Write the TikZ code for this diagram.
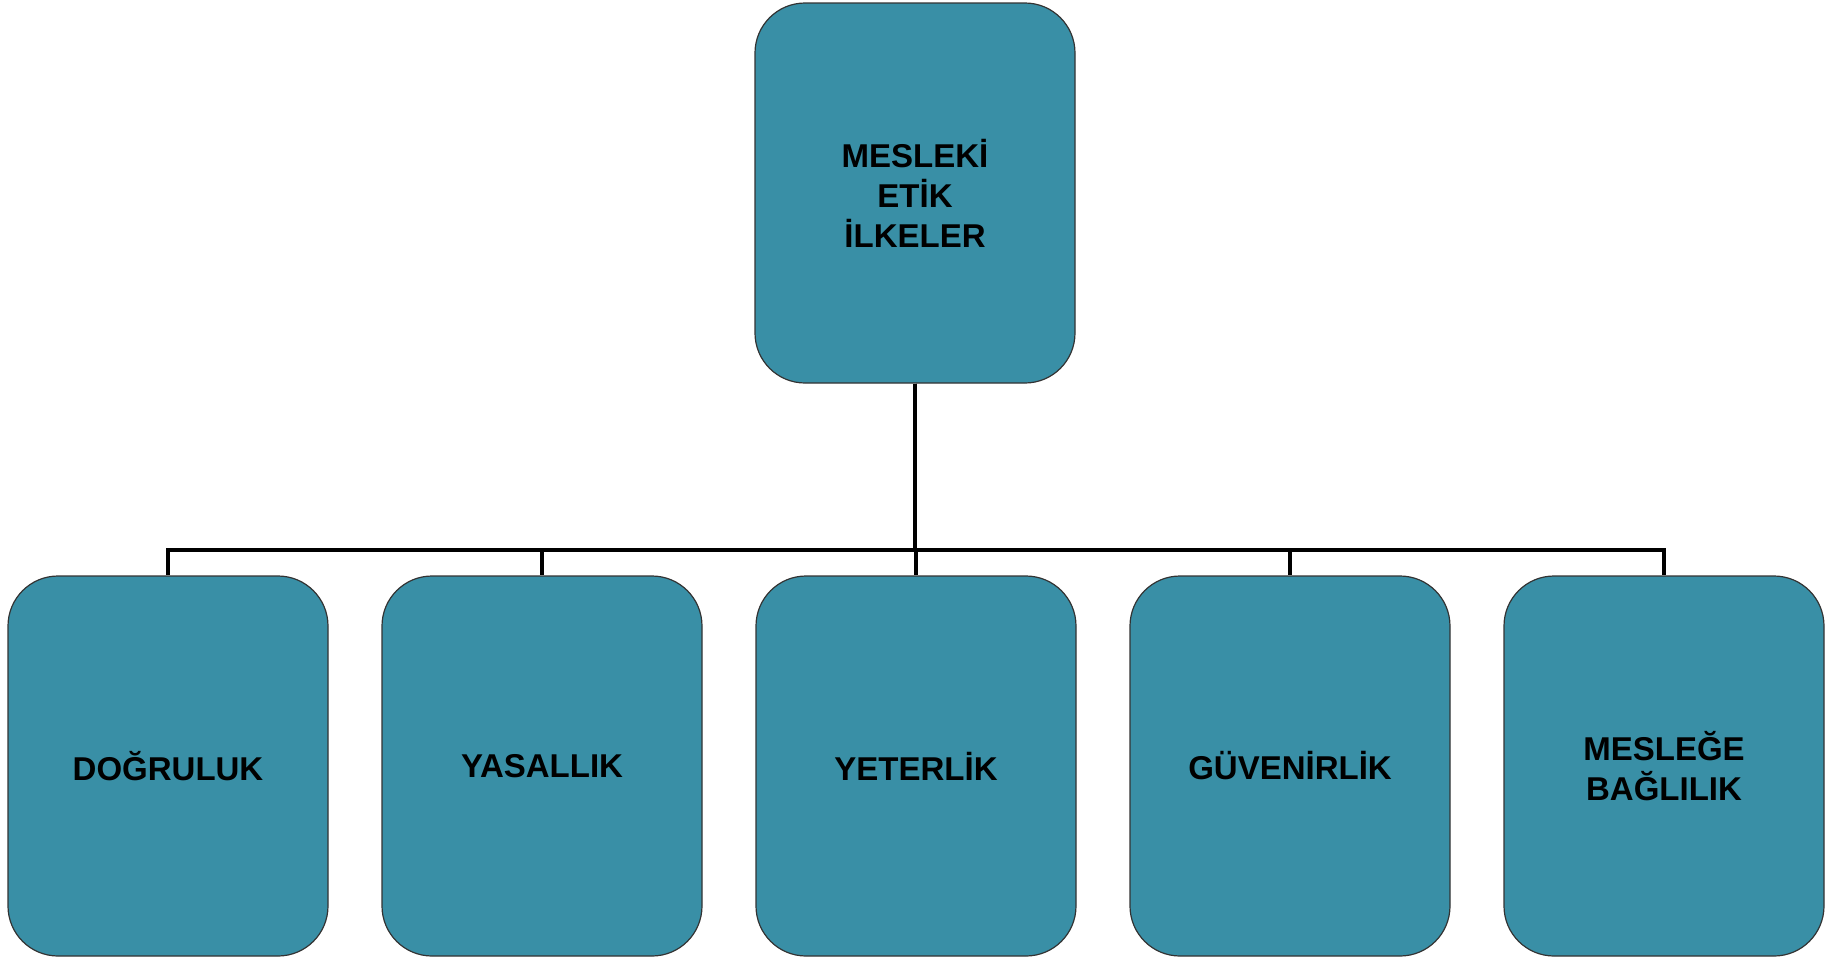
\documentclass[tikz,border=0pt]{standalone}
\usepackage{fontspec}
\setmainfont{Liberation Sans}
\definecolor{tealbox}{RGB}{57,143,166}

\begin{document}
\begin{tikzpicture}
%define
\tikzstyle{ilke} = [rectangle, rounded corners=25pt, minimum width=160pt, minimum height=190pt, text centered, draw=black!80, line width=0.6pt, fill=tealbox, font=\fontsize{16.5}{20}\selectfont\bfseries, align=center]
\tikzstyle{link} = [line width=2pt, line join=miter]

\useasboundingbox (0,0) rectangle (916.5pt,-480pt);

\node[ilke](etik) at (457.5pt,-96.5pt){MESLEK\.I\\ET\.IK\\\.ILKELER};
\node[ilke](dogruluk) at (84pt,-383pt){DO\u{G}RULUK};
\node[ilke, right of = dogruluk, node distance=187pt](yasallik){YASALLIK};
\node[ilke, right of = yasallik, node distance=187pt](yeterlik){YETERL\.IK};
\node[ilke, right of = yeterlik, node distance=187pt](guvenirlik){G\"UVEN\.IRL\.IK};
\node[ilke, right of = guvenirlik, node distance=187pt](baglilik){MESLE\u{G}E\\BA\u{G}LILIK};

\coordinate (bus) at (0,-275pt);

\foreach \n in {dogruluk, yasallik, yeterlik, guvenirlik, baglilik}
  \draw[link](etik.south) -- (etik.south |- bus) -| (\n.north);

\end{tikzpicture}
\end{document}
